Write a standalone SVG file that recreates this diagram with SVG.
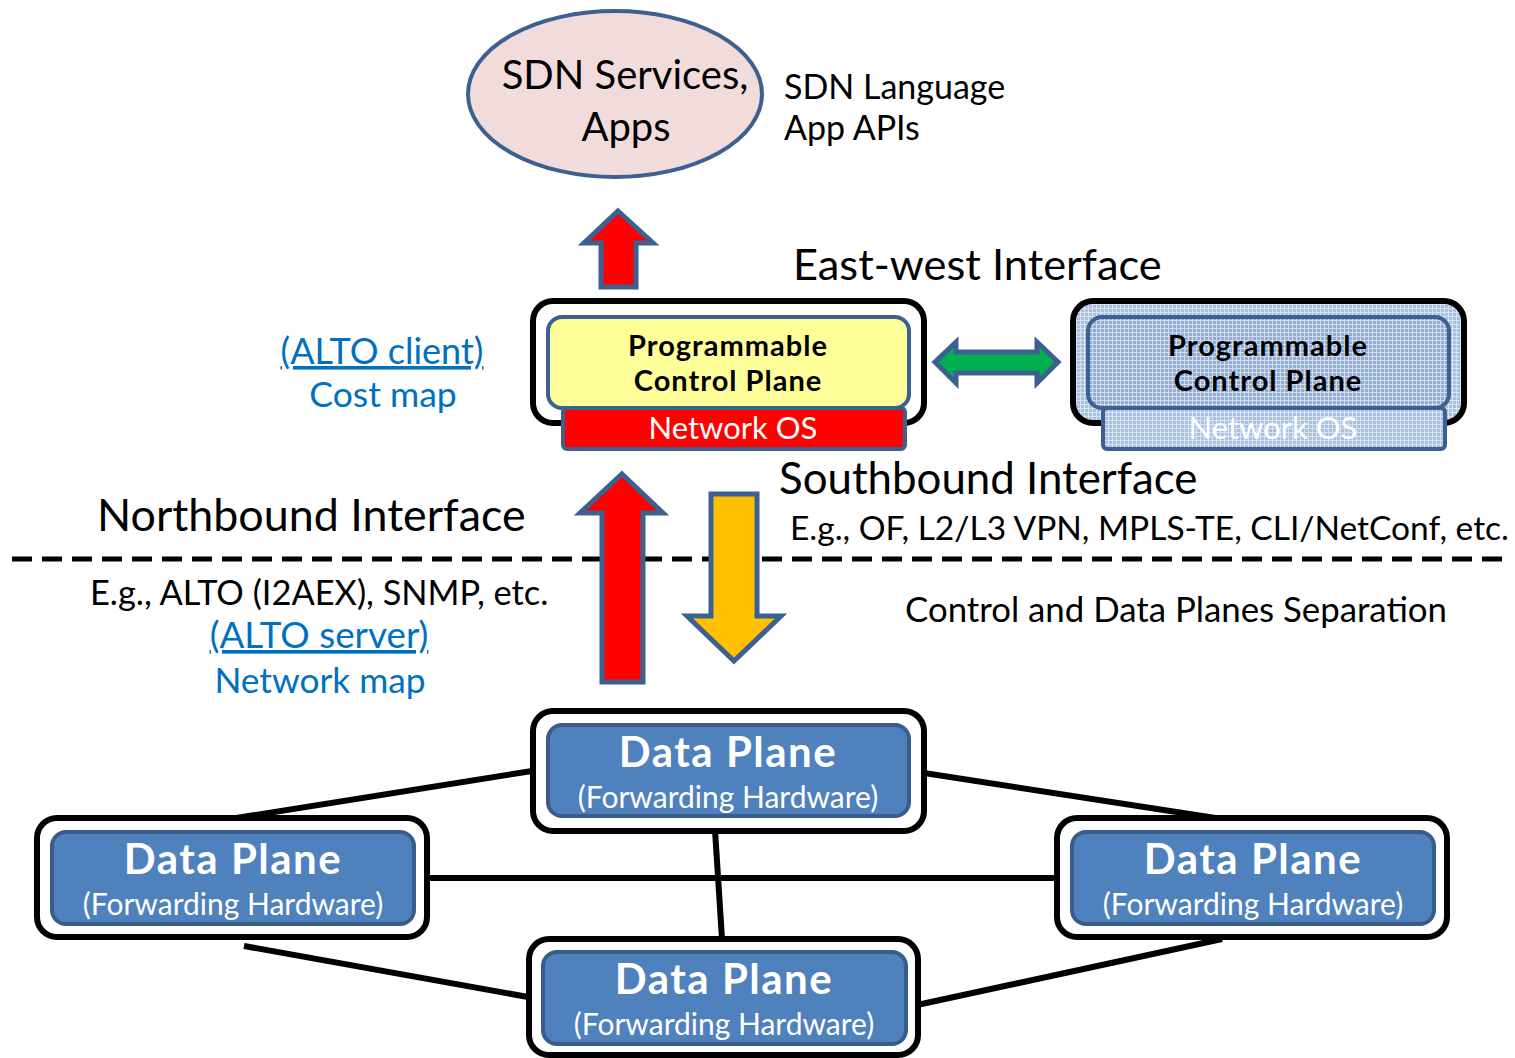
<svg xmlns="http://www.w3.org/2000/svg" width="1515" height="1058" viewBox="0 0 1515 1058">
<defs>
<style>
text{font-family:Lato,"Open Sans","Liberation Sans",sans-serif;}
.blue{fill:#0070c0;}
.outer{fill:#fff;stroke:#000;stroke-width:6;}
.dp{fill:#4f81bd;stroke:#385d8a;stroke-width:4;}
.dpt{fill:#fff;font-weight:bold;font-size:42px;letter-spacing:1.5px;text-anchor:middle;}
.dps{fill:#fff;font-size:30px;text-anchor:middle;}
.arr{stroke:#3c6090;stroke-width:5;stroke-linejoin:miter;}
.conn{stroke:#000;stroke-width:6;fill:none;}
.cpt{font-weight:bold;font-size:29px;letter-spacing:1px;text-anchor:middle;fill:#000;}
</style>
<pattern id="hatch" width="4" height="4" patternUnits="userSpaceOnUse">
<rect width="4" height="4" fill="#a9c0e3"/>
<path d="M0 0.5H4M0.5 0V4" stroke="#d9e4f3" stroke-width="1"/>
</pattern>
<pattern id="hatch2" width="4" height="4" patternUnits="userSpaceOnUse">
<rect width="4" height="4" fill="#92acd6"/>
<path d="M0 0.5H4M0.5 0V4" stroke="#cfdcf0" stroke-width="1"/>
</pattern>
</defs>

<g id="connectors">
<line class="conn" x1="532" y1="771" x2="230" y2="819"/>
<line class="conn" x1="924" y1="773" x2="1222" y2="819"/>
<line class="conn" x1="715" y1="830" x2="722" y2="939"/>
<line class="conn" x1="428" y1="878" x2="1056" y2="878"/>
<line class="conn" x1="244" y1="946" x2="528" y2="997"/>
<line class="conn" x1="917" y1="1005" x2="1222" y2="939"/>
<line x1="12" y1="559" x2="1508" y2="559" stroke="#000" stroke-width="5" stroke-dasharray="20 10"/>
</g>

<g id="apps">
<ellipse cx="615" cy="94" rx="147" ry="83" fill="#f2dcdb" stroke="#3c6090" stroke-width="4"/>
<text x="625" y="89" font-size="40" text-anchor="middle">SDN Services,</text>
<text x="626" y="141" font-size="40" text-anchor="middle">Apps</text>
</g>

<g id="apps-label">
<text x="784" y="99" font-size="34">SDN Language</text>
<text x="784" y="140" font-size="34">App APIs</text>
</g>

<g id="arrow-up-top">
<polygon class="arr" fill="#ff0000" points="618,211 653,243 636,243 636,287 601,287 601,243 584,243"/>
</g>

<text x="793" y="280" font-size="43.4">East-west Interface</text>

<g id="controller">
<rect class="outer" x="533" y="301" width="391" height="122" rx="20"/>
<rect x="548" y="317" width="361" height="91" rx="14" fill="#ffff99" stroke="#3c6090" stroke-width="4"/>
<rect x="563" y="408" width="342" height="41" rx="4" fill="#ff0000" stroke="#3c6090" stroke-width="4"/>
<text class="cpt" x="728" y="356">Programmable</text>
<text class="cpt" x="728" y="391">Control Plane</text>
<text x="733" y="439" font-size="31" fill="#fff" text-anchor="middle">Network OS</text>
</g>

<g id="controller2">
<rect x="1073" y="301" width="391" height="122" rx="20" fill="url(#hatch)" stroke="#000" stroke-width="6"/>
<rect x="1088" y="317" width="361" height="91" rx="14" fill="url(#hatch2)" stroke="#3c6090" stroke-width="4"/>
<rect x="1103" y="408" width="342" height="41" rx="4" fill="url(#hatch)" stroke="#3c6090" stroke-width="4"/>
<text class="cpt" x="1268" y="356">Programmable</text>
<text class="cpt" x="1268" y="391">Control Plane</text>
<text x="1273" y="439" font-size="31" fill="#fff" text-anchor="middle">Network OS</text>
</g>

<g id="arrow-eastwest">
<polygon class="arr" fill="#00b050" points="935,362 956,342 956,352 1037,352 1037,342 1058,362 1037,383 1037,373 956,373 956,383"/>
</g>

<g id="alto-client">
<text class="blue" x="382" y="364" font-size="36" text-anchor="middle" text-decoration="underline">(ALTO client)</text>
<text class="blue" x="383" y="407" font-size="35.5" text-anchor="middle">Cost map</text>
</g>

<text x="779" y="494" font-size="43.8">Southbound Interface</text>
<text x="790" y="540" font-size="33.5">E.g., OF, L2/L3 VPN, MPLS-TE, CLI/NetConf, etc.</text>
<text x="97" y="531" font-size="44.8">Northbound Interface</text>

<g id="arrow-up">
<polygon class="arr" fill="#ff0000" points="622,474 663,513 643,513 643,682 602,682 602,513 580,513"/>
</g>
<g id="arrow-down">
<polygon class="arr" fill="#ffc000" points="711,494 757,494 757,616 781,616 734,661 687,616 711,616"/>
</g>

<g id="alto-server">
<text x="90" y="605" font-size="34.4">E.g., ALTO (I2AEX), SNMP, etc.</text>
<text class="blue" x="319" y="648" font-size="36.8" text-anchor="middle" text-decoration="underline">(ALTO server)</text>
<text class="blue" x="320" y="693" font-size="35.3" text-anchor="middle">Network map</text>
</g>

<text x="905" y="622" font-size="34.8">Control and Data Planes Separation</text>

<g id="dp-top">
<rect class="outer" x="533" y="711" width="391" height="120" rx="20"/>
<rect class="dp" x="548" y="725" width="361" height="91" rx="14"/>
<text class="dpt" x="728" y="767">Data Plane</text>
<text class="dps" x="728" y="808">(Forwarding Hardware)</text>
</g>

<g id="dp-left">
<rect class="outer" x="37" y="818" width="390" height="119" rx="20"/>
<rect class="dp" x="52" y="832" width="362" height="92" rx="14"/>
<text class="dpt" x="233" y="874">Data Plane</text>
<text class="dps" x="233" y="915">(Forwarding Hardware)</text>
</g>

<g id="dp-right">
<rect class="outer" x="1057" y="818" width="390" height="119" rx="20"/>
<rect class="dp" x="1072" y="832" width="362" height="92" rx="14"/>
<text class="dpt" x="1253" y="874">Data Plane</text>
<text class="dps" x="1253" y="915">(Forwarding Hardware)</text>
</g>

<g id="dp-bottom">
<rect class="outer" x="529" y="939" width="389" height="116" rx="20"/>
<rect class="dp" x="543" y="952" width="363" height="92" rx="14"/>
<text class="dpt" x="724" y="994">Data Plane</text>
<text class="dps" x="724" y="1035">(Forwarding Hardware)</text>
</g>
</svg>
